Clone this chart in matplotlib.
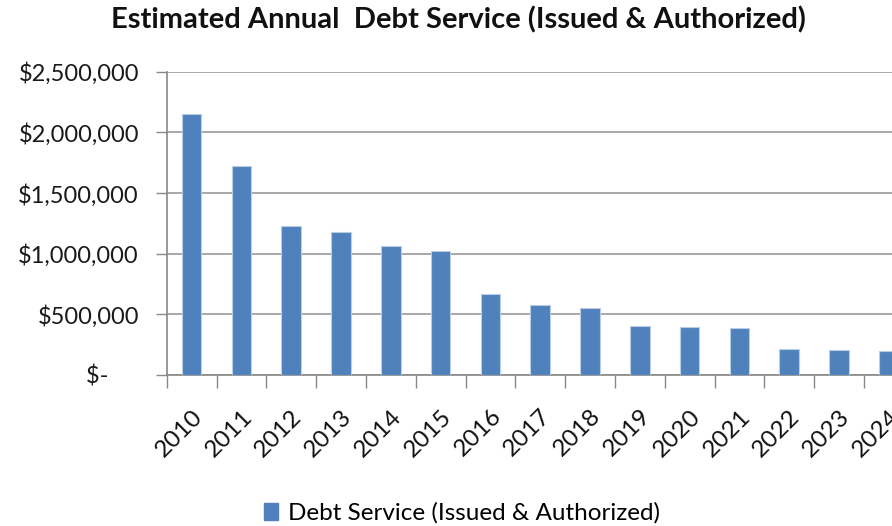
import matplotlib
matplotlib.use("Agg")
import matplotlib.pyplot as plt
import matplotlib.transforms as mtrans
import numpy as np
from matplotlib.ticker import FuncFormatter, FixedLocator

years = ["2010", "2011", "2012", "2013", "2014", "2015", "2016", "2017",
         "2018", "2019", "2020", "2021", "2022", "2023", "2024"]
debt_service = [2149000, 1725000, 1231000, 1176000, 1061000, 1020000, 670000, 575000,
                555000, 406000, 396000, 385000, 217000, 206000, 195000]
series_name = "Debt Service (Issued & Authorized)"
title = "Estimated Annual  Debt Service (Issued & Authorized)"

plt.rcParams['font.family'] = ['Lato', 'DejaVu Sans']

W, H = 892, 526
fig = plt.figure(figsize=(W / 100, H / 100), dpi=100)
left, right, top, bottom = 166.7, 166.7 + 15 * 49.8, 71.7, 375.0
ax = fig.add_axes([left / W, 1 - bottom / H, (right - left) / W, (bottom - top) / H])

x = np.arange(len(years))
ax.bar(x, debt_service, width=0.39, color="#4F81BD", edgecolor="#B9CDE5",
       linewidth=0.8, zorder=3)

ax.set_xlim(-0.5, len(years) - 0.5)
ax.set_ylim(0, 2500000)
ax.set_yticks(np.arange(0, 2500001, 500000))

def fmt(v, pos):
    if v == 0:
        return "$-     "
    return "${:,.0f}".format(v)
ax.yaxis.set_major_formatter(FuncFormatter(fmt))

ax.set_xticks(x)
ax.set_xticklabels(years, rotation=45, ha="right", rotation_mode="anchor", fontsize=17.5)
offset = mtrans.ScaledTranslation(-5 / 100, 0, fig.dpi_scale_trans)
for lab in ax.get_xticklabels():
    lab.set_transform(lab.get_transform() + offset)
ax.xaxis.set_minor_locator(FixedLocator(np.arange(-0.5, len(years), 1.0)))
ax.tick_params(axis="x", which="major", length=0, pad=22, labelcolor="#111111")
ax.tick_params(axis="x", which="minor", length=9, color="#888888", width=1)
ax.tick_params(axis="y", which="major", length=8, color="#888888", width=1,
               labelsize=17, pad=12, labelcolor="#1a1a1a")

ax.grid(axis="y", color="#999999", linewidth=1.2, zorder=0)
for s in ["top", "right"]:
    ax.spines[s].set_visible(False)
for s in ["left", "bottom"]:
    ax.spines[s].set_color("#888888")
    ax.spines[s].set_linewidth(1.2)

fig.text(458 / W, 1 - 20 / H, title, ha="center", va="center",
         fontsize=21, fontweight="bold", color="#111111")

handle = plt.Rectangle((0, 0), 1, 1, color="#4F81BD")
fig.legend([handle], [series_name], loc="center", bbox_to_anchor=(462 / W, 1 - 513 / H),
           frameon=False, fontsize=17.5, handlelength=0.55, handleheight=0.7,
           handletextpad=0.4)

fig.savefig("out.png", dpi=100)
